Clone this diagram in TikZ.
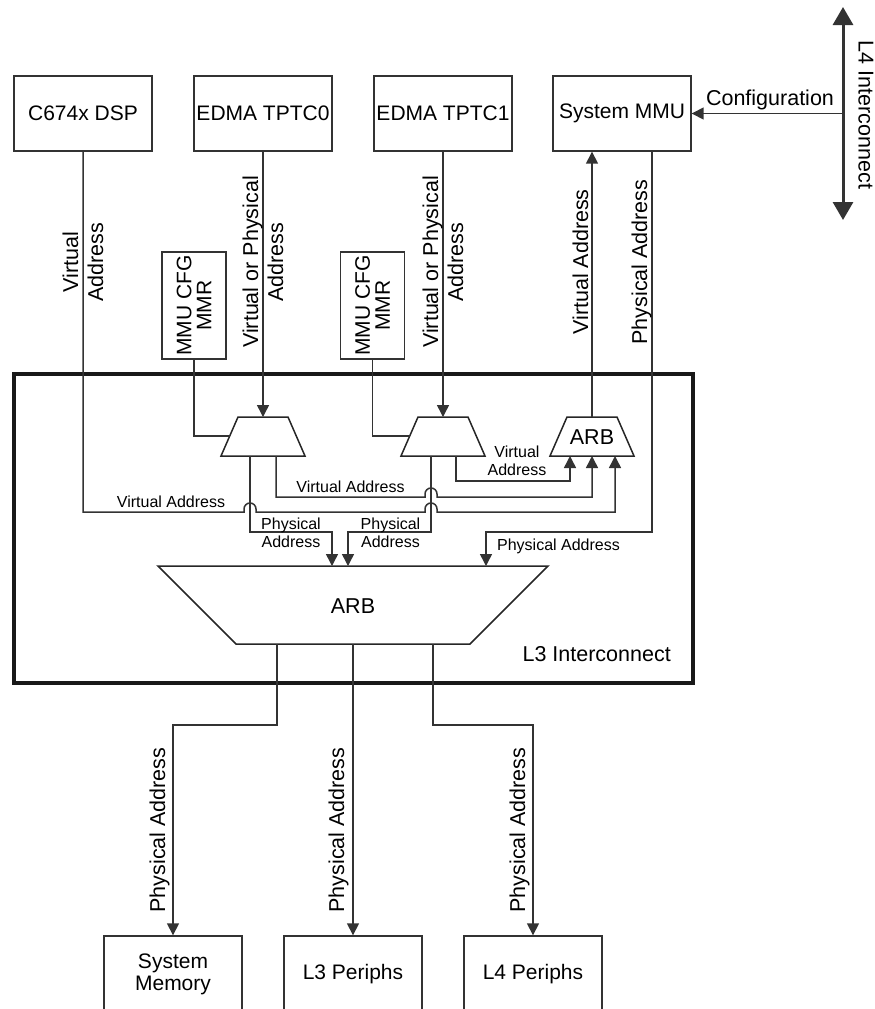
\documentclass[tikz,border=0pt]{standalone}
\usepackage{fontspec}
\setmainfont{Liberation Sans}
\usetikzlibrary{arrows.meta}

% text sizes used in the drawing
\newcommand\txtbig{\fontsize{21.5}{25}\selectfont}
\newcommand\txtbox{\fontsize{21}{22}\selectfont}
\newcommand\txtcfg{\fontsize{21}{20}\selectfont}
\newcommand\txtsmall{\fontsize{16}{18}\selectfont}

\begin{document}
\begin{tikzpicture}[x=1pt,y=-1pt,
  ink/.style={black!80},
  wire/.style={ink, line width=1.5pt},
  arr/.style={wire, -{Triangle[width=12pt,length=12pt]}},
  blk/.style={draw=black!80, line width=1.4pt, minimum width=138pt,
              minimum height=75pt, inner sep=0pt, align=center, font=\txtbox},
  cfgbox/.style={draw=black!80, line width=1.4pt, rotate=90, minimum width=107pt,
              minimum height=64pt, inner sep=0pt, align=center, font=\txtcfg},
  vlab/.style={rotate=90, align=center, inner sep=0pt, font=\txtbig},
  slab/.style={inner sep=0pt, align=center, font=\txtsmall},
  trap/.style={draw=black!85, line width=1.5pt, line join=miter}
]
\useasboundingbox (0,0) rectangle (875,1009);
\clip (0,0) rectangle (875,1009);

% masters and the system MMU
\node[blk] (dsp)  at (83,113.5)  {C674x DSP};
\node[blk] (tc0)  at (263,113.5) {EDMA TPTC0};
\node[blk] (tc1)  at (443,113.5) {EDMA TPTC1};
\node[blk] (smmu) at (622,113.5) {System MMU};

% L4 interconnect bus and configuration path
\coordinate (l4top) at (843,7);
\coordinate (l4bot) at (843,220);
\coordinate (l4tap) at (843,113.5);
\draw[ink, line width=3pt, {Triangle[width=20pt,length=18pt]}-{Triangle[width=20pt,length=18pt]}]
  (l4top) -- (l4bot);
\node[rotate=-90, font=\txtbig, inner sep=0pt] (l4lab) at (866,115) {L4 Interconnect};
\draw[arr] (l4tap) -- (smmu.east);
\node[font=\txtbig, anchor=base, inner sep=0pt] (cfglab) at (770,105) {Configuration};

% MMU configuration registers
\node[cfgbox] (cfg0) at (194,305.5)   {MMU CFG\\MMR};
\node[cfgbox] (cfg1) at (372.5,305.5) {MMU CFG\\MMR};

% L3 interconnect frame
\node[draw=black!90, line width=3.5pt, minimum width=679pt, minimum height=309pt,
      inner sep=0pt] (l3) at (353.5,528.5) {};
\node[font=\txtbig, anchor=base east, inner sep=0pt] (l3lab) at (671,661) {L3 Interconnect};

% address multiplexers and arbiters
\draw[trap] (238,417) -- (288,417) -- (305,456) -- (221,456) -- cycle;
\draw[trap] (418,417) -- (468,417) -- (485,456) -- (401,456) -- cycle;
\draw[trap] (567,417) -- (617,417) -- (634,456) -- (550,456) -- cycle;
\node[font=\txtbig, inner sep=0pt] (arb0) at (592,437) {ARB};
\draw[trap] (158,566) -- (548,566) -- (470,644) -- (236,644) -- cycle;
\node[font=\txtbig, inner sep=0pt] (arb1) at (353,606) {ARB};

% ports
\coordinate (m0in)  at (263,417);
\coordinate (m0cfg) at (229.5,436);
\coordinate (m0p)   at (250,456);
\coordinate (m0v)   at (276,456);
\coordinate (m1in)  at (443,417);
\coordinate (m1cfg) at (409.5,436);
\coordinate (m1p)   at (431,456);
\coordinate (m1v)   at (456,456);
\coordinate (a0in0) at (570,456);
\coordinate (a0in1) at (592,456);
\coordinate (a0in2) at (615,456);
\coordinate (a0out) at (592,417);
\coordinate (a1in0) at (332,566);
\coordinate (a1in1) at (348,566);
\coordinate (a1in2) at (486,566);
\coordinate (a1out0) at (277,644);
\coordinate (a1out1) at (353,644);
\coordinate (a1out2) at (433,644);

% master inputs
\draw[arr] (tc0.south) -- (m0in);
\draw[arr] (tc1.south) -- (m1in);
\draw[wire] (cfg0.west) |- (m0cfg);
\draw[wire] (cfg1.west) |- (m1cfg);
\node[vlab] (dsplab) at (83,262)  {Virtual\\Address};
\node[vlab] (tc0lab) at (263,262) {Virtual or Physical\\Address};
\node[vlab] (tc1lab) at (443,262) {Virtual or Physical\\Address};

% virtual addresses into the MMU arbiter
\draw[arr] (m1v) -- (456,481) -| (a0in0);
\draw[arr] (m0v) -- (276,497) -- (425,497) -- ++(0,-3) arc(180:0:6pt) -- ++(0,3) -| (a0in1);
\draw[arr] (dsp.south) -- (83,512) -- (244,512) -- ++(0,-3) arc(180:0:6pt) -- ++(0,3)
  -- (425,512) -- ++(0,-3) arc(180:0:6pt) -- ++(0,3) -| (a0in2);
\node[slab] (va2) at (517,461) {Virtual\\Address};
\node[slab, anchor=base] (va1) at (350.5,492) {Virtual Address};
\node[slab, anchor=base] (va0) at (171,507) {Virtual Address};

% system MMU loop
\draw[arr] (a0out) -- (smmu.south -| a0out);
\draw[arr] ([xshift=30pt]smmu.south) -- (652,532) -| (a1in2);
\node[vlab, anchor=base] (mmuva) at (588,262) {Virtual Address};
\node[vlab, anchor=base] (mmupa) at (647,262) {Physical Address};
\node[slab, anchor=base] (pa2) at (558.5,550) {Physical Address};

% physical addresses into the main arbiter
\draw[arr] (m0p) -- (250,532) -| (a1in0);
\draw[arr] (m1p) -- (431,532) -| (a1in1);
\node[slab] (pa0) at (291,533) {Physical\\Address};
\node[slab] (pa1) at (390.5,533) {Physical\\Address};

% slaves
\node[blk, minimum height=76pt] (mem) at (173,974) {System\\Memory};
\node[blk, minimum height=76pt] (l3p) at (353,974) {L3 Periphs};
\node[blk, minimum height=76pt] (l4p) at (533,974) {L4 Periphs};
\draw[arr] (a1out0) -- ++(0,81) -| (mem.north);
\draw[arr] (a1out1) -- (l3p.north);
\draw[arr] (a1out2) -- ++(0,81) -| (l4p.north);
\node[vlab, anchor=base] (ml0) at (165,830) {Physical Address};
\node[vlab, anchor=base] (ml1) at (344,830) {Physical Address};
\node[vlab, anchor=base] (ml2) at (525,830) {Physical Address};
\end{tikzpicture}
\end{document}
